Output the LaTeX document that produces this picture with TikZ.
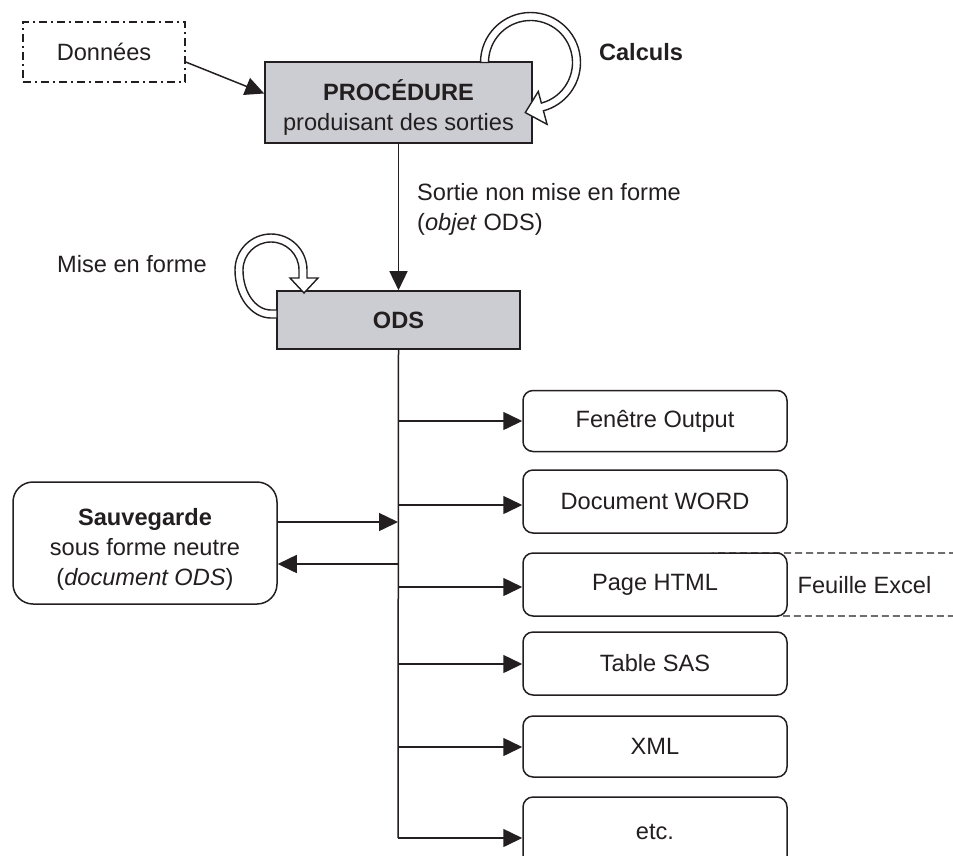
\documentclass[tikz,border=0pt]{standalone}
\usepackage{fontspec}
\setmainfont{Liberation Sans}
\usetikzlibrary{arrows.meta,calc}
\definecolor{ink}{RGB}{35,31,32}
\definecolor{procgray}{RGB}{204,205,210}
\begin{document}
\begin{tikzpicture}[x=1pt,y=-1pt,
  txt/.style={font=\fontsize{23.6}{30}\selectfont, text=ink, inner sep=0pt},
  gbox/.style={draw=ink, line width=1.6pt, fill=procgray, inner sep=0pt},
  obox/.style={txt, draw=ink, rounded corners=10pt, line width=1.5pt, fill=white, minimum width=264pt, minimum height=61pt},
  arr/.style={draw=ink, line width=1.5pt, -{Triangle[length=19pt,width=18pt]}},
  band/.style={draw=ink, fill=white, line width=1.4pt, line join=miter}
]
\useasboundingbox (0,0) rectangle (953,855);

% Donnees
\node[txt, draw=ink, line width=1.5pt, dash pattern=on 8pt off 4pt on 2pt off 4pt,
      minimum width=162pt, minimum height=60pt] (don) at (104,52) {Données};

% Procedure
\node[gbox, minimum width=267pt, minimum height=81pt] (proc) at (398.5,102.5) {};
\node[txt, align=center] (proct) at (398.5,107) {\textbf{PROCÉDURE}\\produisant des sorties};
\draw[arr] ($(don.east)+(0,10)$) -- ($(proc.west)+(0,-9)$);

% Calculs loop
\coordinate (cc) at (530.5,62.5);
\draw[band] ($(cc)+(180:50)$) arc[start angle=180, end angle=435, radius=50]
  -- ($(cc)+(435:64)$) -- ($(cc)+(435:47)+(525:18)$) -- ($(cc)+(435:30)$)
  -- ($(cc)+(435:42)$) arc[start angle=435, end angle=180, radius=42] -- cycle;
\node[txt, font=\fontsize{23.6}{30}\selectfont\bfseries] (calc) at (641,52) {Calculs};

% ODS
\node[gbox, minimum width=243pt, minimum height=58pt, txt, font=\fontsize{23.6}{30}\selectfont\bfseries] (ods) at (398.5,320) {ODS};
\draw[arr] (proc.south) -- (ods.north);
\node[txt, anchor=west, align=left] (sortie) at (417,209) {Sortie non mise en forme\\(\textit{objet} ODS)};

% Mise en forme loop
\draw[band] (277,318) -- (271,318) arc[start angle=90, end angle=180, x radius=36, y radius=48]
  arc[start angle=180, end angle=360, radius=36] -- (307,278) -- (318,278) -- (304,293)
  -- (290,278) -- (299,278) -- (299,270) arc[start angle=0, end angle=-180, radius=28]
  arc[start angle=180, end angle=90, x radius=28, y radius=40] -- (277,310) -- cycle;
\node[txt] (mef) at (132,264) {Mise en forme};

% Feuille Excel (dashed, behind Page HTML)
\node[draw=ink, line width=1.2pt, dash pattern=on 7pt off 4pt, rounded corners=10pt,
      minimum width=262pt, minimum height=63pt] (xl) at (835,584.5) {};
\node[txt] (xlt) at (864.5,585) {Feuille Excel};

% outputs
\node[obox] (fen) at (655,421) {Fenêtre Output};
\node[obox, minimum height=63pt] (word) at (655,501.5) {Document WORD};
\node[obox, minimum height=63pt] (html) at (655,584.5) {Page HTML};
\node[obox, minimum height=63pt] (sas) at (655,663.5) {Table SAS};
\node[obox] (xml) at (655,746.5) {XML};
\node[obox, minimum height=70pt] (etc) at (655,832) {etc.};

% trunk
\coordinate (tend) at (398,838);
\draw[ink, line width=1.5pt] (ods.south) -- (tend);
\coordinate (t1) at (398,421);
\coordinate (t2) at (398,505);
\coordinate (t3) at (398,587);
\coordinate (t4) at (398,664);
\coordinate (t5) at (398,747);
\draw[arr] (t1) -- (t1 -| fen.west);
\draw[arr] (t2) -- (t2 -| word.west);
\draw[arr] (t3) -- (t3 -| html.west);
\draw[arr] (t4) -- (t4 -| sas.west);
\draw[arr] (t5) -- (t5 -| xml.west);
\draw[arr] (tend) -- (tend -| etc.west);

% Sauvegarde
\node[draw=ink, line width=1.5pt, rounded corners=20pt, fill=white,
      minimum width=264pt, minimum height=122pt] (sav) at (145,543) {};
\node[txt, align=center] (savt) at (145,549) {\textbf{Sauvegarde}\\sous forme neutre\\(\textit{document ODS})};
\coordinate (s1) at (398,522);
\coordinate (s2) at (398,564);
\draw[arr] (s1 -| sav.east) -- (s1);
\draw[arr] (s2) -- (s2 -| sav.east);
\end{tikzpicture}
\end{document}
